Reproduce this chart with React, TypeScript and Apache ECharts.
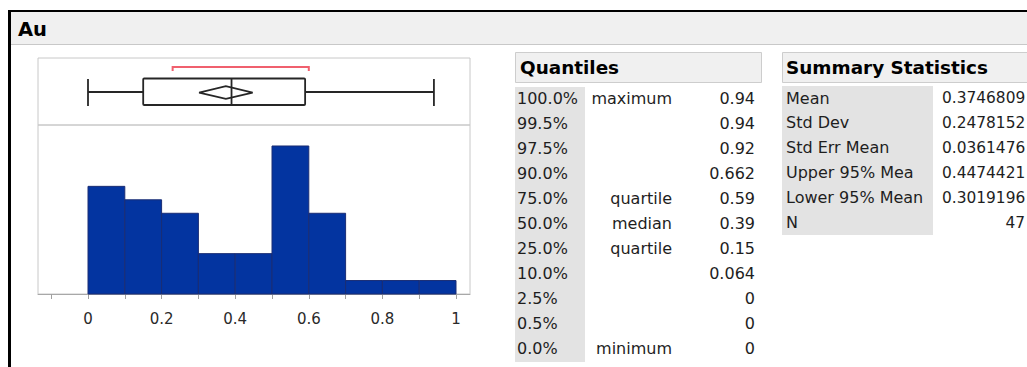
import React, { useEffect, useRef } from "react";
import * as echarts from "echarts";

// Distribution of Au: histogram bins (bin edges and counts, N = 47)
const binEdges = [0, 0.1, 0.2, 0.3, 0.4, 0.5, 0.6, 0.7, 0.8, 0.9, 1.0];
const binCounts = [8, 7, 6, 3, 3, 11, 6, 1, 1, 1];

// Axis ticks and labels of the shared value axis
const tickValues = [-0.1, 0, 0.1, 0.2, 0.3, 0.4, 0.5, 0.6, 0.7, 0.8, 0.9, 1.0];
const labelValues = [0, 0.2, 0.4, 0.6, 0.8, 1];

// Quantiles table
const quantilePct = ["100.0%", "99.5%", "97.5%", "90.0%", "75.0%", "50.0%", "25.0%", "10.0%", "2.5%", "0.5%", "0.0%"];
const quantileNames = ["maximum", "", "", "", "quartile", "median", "quartile", "", "", "", "minimum"];
const quantileValues = ["0.94", "0.94", "0.92", "0.662", "0.59", "0.39", "0.15", "0.064", "0", "0", "0"];

// Summary statistics table
const summaryLabels = ["Mean", "Std Dev", "Std Err Mean", "Upper 95% Mea", "Lower 95% Mean", "N"];
const summaryValues = ["0.3746809", "0.2478152", "0.0361476", "0.4474421", "0.3019196", "47"];

// Shortest half interval (red bracket above the box)
const shortestHalf = [0.23, 0.6];

const X_MIN = -0.13587;
const X_MAX = 1.03804;

const ROW_FONT = "16px 'DejaVu Sans'";
const VALUE_FONT = "15.4px 'DejaVu Sans'";
const HEAD_FONT = "bold 18.4px 'DejaVu Sans'";
const TEXT_COLOR = "#1e1e1e";

function txt(text: string, x: number, y: number, font: string, align: string = "left", fill = TEXT_COLOR) {
  return {
    type: "text",
    x,
    y,
    silent: true,
    style: {
      text,
      font,
      fill,
      align,
      verticalAlign: "middle",
      textAlign: align,
      textVerticalAlign: "middle",
    },
  };
}

export default function App() {
  const ref = useRef<HTMLDivElement>(null);

  useEffect(() => {
    if (!ref.current) return;
    const chart = echarts.init(ref.current, null, { renderer: "svg" });

    const qv = (name: string) => parseFloat(quantileValues[quantilePct.indexOf(name)]);
    const minV = qv("0.0%");
    const maxV = qv("100.0%");
    const q1 = qv("25.0%");
    const med = qv("50.0%");
    const q3 = qv("75.0%");
    const mean = parseFloat(summaryValues[0]);
    const upper = parseFloat(summaryValues[3]);
    const lower = parseFloat(summaryValues[4]);

    const histData = binCounts.map((c, i) => [binEdges[i], binEdges[i + 1], c]);

    const elements: any[] = [];
    // title band and outer frame
    elements.push({ type: "rect", shape: { x: 11, y: 12, width: 1020, height: 32 }, style: { fill: "#f0f0f0" }, silent: true });
    elements.push({ type: "line", shape: { x1: 11, y1: 44.5, x2: 1027, y2: 44.5 }, style: { stroke: "#c8c8c8", lineWidth: 1 }, silent: true });
    elements.push({ type: "line", shape: { x1: 8, y1: 11, x2: 1027, y2: 11 }, style: { stroke: "#000", lineWidth: 2 }, silent: true });
    elements.push({ type: "line", shape: { x1: 9.5, y1: 10, x2: 9.5, y2: 367 }, style: { stroke: "#000", lineWidth: 3 }, silent: true });
    elements.push(txt("Au", 18, 29, "bold 19.5px 'DejaVu Sans'", "left", "#000"));

    // Quantiles table
    elements.push({ type: "rect", shape: { x: 515.5, y: 52.5, width: 246, height: 30 }, style: { fill: "#f0f0f0", stroke: "#cdcdcd", lineWidth: 1 }, silent: true });
    elements.push(txt("Quantiles", 520, 67, HEAD_FONT, "left", "#000"));
    elements.push({ type: "rect", shape: { x: 515, y: 87, width: 70, height: 275 }, style: { fill: "#e3e3e3" }, silent: true });
    quantilePct.forEach((p, i) => {
      const y = 98.5 + 25 * i;
      elements.push(txt(p, 517, y, ROW_FONT));
      if (quantileNames[i]) {
        elements.push(txt(quantileNames[i], 672, y, ROW_FONT, "right"));
      }
      elements.push(txt(quantileValues[i], 755, y, ROW_FONT, "right"));
    });

    // Summary statistics table
    elements.push({ type: "rect", shape: { x: 782.5, y: 52.5, width: 270, height: 30 }, style: { fill: "#f0f0f0", stroke: "#cdcdcd", lineWidth: 1 }, silent: true });
    elements.push(txt("Summary Statistics", 786, 67, HEAD_FONT, "left", "#000"));
    elements.push({ type: "rect", shape: { x: 782, y: 86, width: 151, height: 149 }, style: { fill: "#e3e3e3" }, silent: true });
    summaryLabels.forEach((l, i) => {
      const y = 98 + 24.9 * i;
      elements.push(txt(l, 786, y, ROW_FONT));
      const isCount = l === "N";
      elements.push(txt(summaryValues[i], isCount ? 1025 : 942, y, VALUE_FONT, isCount ? "right" : "left"));
    });

    const boxLine = { stroke: "#262626", lineWidth: 1.8, fill: "none" };

    chart.setOption({
      animation: false,
      backgroundColor: "#ffffff",
      grid: [
        { left: 38, top: 58, width: 432, height: 67, show: true, borderColor: "#c8c8c8", borderWidth: 1, backgroundColor: "transparent" },
        { left: 38, top: 125, width: 432, height: 169, show: true, borderColor: "#c8c8c8", borderWidth: 1, backgroundColor: "transparent" },
      ],
      xAxis: [
        { type: "value", gridIndex: 0, min: X_MIN, max: X_MAX, show: false },
        {
          type: "value",
          gridIndex: 1,
          min: X_MIN,
          max: X_MAX,
          axisLine: { show: true, lineStyle: { color: "#a8a8a8", width: 1 } },
          axisTick: { show: true, length: 5, customValues: tickValues, lineStyle: { color: "#a0a0a0" } },
          axisLabel: {
            show: true,
            customValues: labelValues,
            margin: 17,
            color: "#2a2a2a",
            fontFamily: "DejaVu Sans",
            fontSize: 15,
            formatter: (v: number) => String(+v.toFixed(1)),
          },
          splitLine: { show: false },
        },
      ],
      yAxis: [
        { type: "value", gridIndex: 0, min: 0, max: 1, show: false },
        { type: "value", gridIndex: 1, min: 0, max: 12.56, show: false, splitLine: { show: false } },
      ],
      graphic: { elements },
      series: [
        {
          type: "custom",
          name: "Au histogram",
          xAxisIndex: 1,
          yAxisIndex: 1,
          data: histData,
          encode: { x: [0, 1], y: 2 },
          renderItem: (_params: any, api: any) => {
            const p0 = api.coord([api.value(0), api.value(2)]);
            const p1 = api.coord([api.value(1), 0]);
            return {
              type: "rect",
              shape: { x: p0[0], y: p0[1], width: p1[0] - p0[0], height: p1[1] - p0[1] },
              style: { fill: "#0334a0", stroke: "#1a2d74", lineWidth: 1 },
            };
          },
        },
        {
          type: "custom",
          name: "Au box plot",
          xAxisIndex: 0,
          yAxisIndex: 0,
          data: [[minV, q1, med, q3, maxV]],
          encode: { x: [0, 1, 2, 3, 4] },
          renderItem: (_params: any, api: any) => {
            const c = (x: number, y: number) => api.coord([x, y]);
            const yc = 0.4925;
            const bTop = 0.694;
            const bBot = 0.2985;
            const capTop = 0.687;
            const capBot = 0.284;
            const dTop = 0.58;
            const dBot = 0.39;
            const brY = 0.866;
            const brEnd = 0.806;
            const line = (a: number[], b: number[]) => ({
              type: "line",
              shape: { x1: a[0], y1: a[1], x2: b[0], y2: b[1] },
              style: boxLine,
            });
            const bl = c(q1, bTop);
            const br = c(q3, bBot);
            return {
              type: "group",
              children: [
                line(c(minV, yc), c(q1, yc)),
                line(c(q3, yc), c(maxV, yc)),
                line(c(minV, capTop), c(minV, capBot)),
                line(c(maxV, capTop), c(maxV, capBot)),
                {
                  type: "rect",
                  shape: { x: bl[0], y: bl[1], width: br[0] - bl[0], height: br[1] - bl[1], r: 1 },
                  style: boxLine,
                },
                line(c(med, bTop), c(med, bBot)),
                {
                  type: "polygon",
                  shape: { points: [c(lower, (dTop + dBot) / 2), c(mean, dTop), c(upper, (dTop + dBot) / 2), c(mean, dBot)] },
                  style: boxLine,
                },
                {
                  type: "polyline",
                  shape: {
                    points: [
                      c(shortestHalf[0], brEnd),
                      c(shortestHalf[0], brY),
                      c(shortestHalf[1], brY),
                      c(shortestHalf[1], brEnd),
                    ],
                  },
                  style: { stroke: "#f0606e", lineWidth: 2, fill: "none" },
                },
              ],
            };
          },
        },
      ],
    });

    return () => chart.dispose();
  }, []);

  return (
    <div
      ref={ref}
      style={{ position: "fixed", left: 0, top: 0, width: "1027px", height: "367px", background: "#fff" }}
    />
  );
}
